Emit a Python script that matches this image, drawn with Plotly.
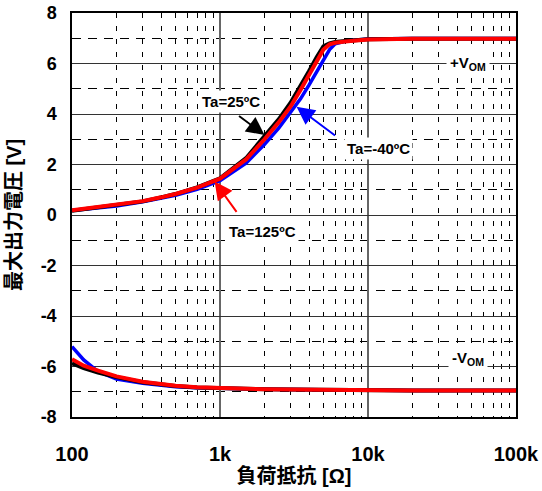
import math
import plotly.graph_objects as go

# Load resistance [ohm]
r_pos = [100, 120, 150, 200, 300, 400, 500, 700, 1000, 1500, 2000, 2500, 3000,
         3500, 4000, 4500, 5000, 5500, 6000, 7000, 8000, 10000, 20000, 50000, 100000]
# +VOM [V]
vom_pos_m40 = [0.18, 0.23, 0.29, 0.36, 0.52, 0.66, 0.78, 1.02, 1.36, 2.05, 2.8, 3.45, 4.05,
               4.6, 5.15, 5.65, 6.1, 6.55, 6.78, 6.88, 6.92, 6.97, 6.99, 6.99, 6.99]
vom_pos_25 = [0.17, 0.23, 0.30, 0.37, 0.54, 0.70, 0.83, 1.09, 1.45, 2.25, 3.1, 3.8, 4.45,
              5.1, 5.7, 6.25, 6.68, 6.8, 6.85, 6.89, 6.92, 6.96, 6.98, 6.98, 6.98]
vom_pos_125 = [0.19, 0.25, 0.31, 0.38, 0.55, 0.70, 0.83, 1.08, 1.44, 2.2, 3.0, 3.68, 4.3,
               4.95, 5.55, 6.05, 6.55, 6.76, 6.82, 6.87, 6.91, 6.95, 6.98, 6.98, 6.98]

r_neg = [100, 120, 150, 200, 300, 400, 500, 700, 1000, 1500, 2000, 3000, 5000,
         10000, 20000, 100000]
# -VOM [V]
vom_neg_m40 = [-5.21, -5.74, -6.2, -6.5, -6.66, -6.74, -6.8, -6.84, -6.87, -6.89, -6.9,
               -6.91, -6.93, -6.94, -6.95, -6.95]
vom_neg_25 = [-5.87, -6.06, -6.24, -6.42, -6.62, -6.71, -6.77, -6.83, -6.86, -6.88, -6.9,
              -6.91, -6.93, -6.94, -6.95, -6.95]
vom_neg_125 = [-5.71, -5.97, -6.16, -6.39, -6.6, -6.7, -6.76, -6.82, -6.86, -6.88, -6.9,
               -6.91, -6.93, -6.94, -6.95, -6.95]

x_tickvals = [100, 1000, 10000, 100000]
x_ticktext = ["100", "1k", "10k", "100k"]
x_minorvals = [m * d for d in (100, 1000, 10000) for m in range(2, 10)]
y_tickvals = [-8, -6, -4, -2, 0, 2, 4, 6, 8]
y_ticktext = ["-8", "-6", "-4", "-2", "0", "2", "4", "6", "8"]

FONT = "Liberation Sans, Arial, Noto Sans CJK JP, sans-serif"

fig = go.Figure()
series = [
    (vom_pos_m40, vom_neg_m40, "#0000ff", 3.5),
    (vom_pos_25, vom_neg_25, "#000000", 4),
    (vom_pos_125, vom_neg_125, "#ff0000", 4),
]
for pos, neg, col, w in series:
    fig.add_trace(go.Scatter(x=r_pos, y=pos, mode="lines",
                             line=dict(color=col, width=w), showlegend=False))
    fig.add_trace(go.Scatter(x=r_neg, y=neg, mode="lines",
                             line=dict(color=col, width=w), showlegend=False))

fig.update_layout(
    width=542, height=491,
    margin=dict(l=72, r=26, t=13, b=74, autoexpand=False),
    paper_bgcolor="white", plot_bgcolor="white",
    font=dict(family=FONT, color="black"),
    xaxis=dict(
        type="log", range=[2, 5], automargin=False,
        tickmode="array", tickvals=x_tickvals, ticktext=x_ticktext,
        tickfont=dict(size=20, family=FONT, weight="bold"),
        ticks="", ticklabelstandoff=18,
        showgrid=True, gridcolor="#666666", gridwidth=1.5,
        minor=dict(tickmode="array", tickvals=x_minorvals, showgrid=True,
                   gridcolor="black", gridwidth=1, griddash="5px,8px", ticks=""),
        showline=True, linecolor="black", linewidth=1.5, mirror=True,
        zeroline=False,
        title=dict(text="<b>負荷抵抗 [Ω]</b>", font=dict(size=20, family=FONT), standoff=5),
    ),
    yaxis=dict(
        range=[-8, 8], automargin=False,
        tickmode="array", tickvals=y_tickvals, ticktext=y_ticktext,
        tickfont=dict(size=18, family=FONT, weight="bold"),
        ticks="", ticklabelstandoff=10,
        showgrid=True, gridcolor="#333333", gridwidth=1,
        minor=dict(dtick=1, showgrid=True, gridcolor="black", gridwidth=1,
                   griddash="9px,7px", ticks=""),
        showline=True, linecolor="black", linewidth=1.5, mirror=True,
        zeroline=False,
        title=dict(text="<b>最大出力電圧 [V]</b>", font=dict(size=20, family=FONT), standoff=14),
    ),
)

txt_font = dict(size=15, family=FONT, color="black", weight="bold")

# Arrows pointing at curves
arrows = [
    (2000, 3.17, -27, -20, "black"),
    (3290, 4.29, 40, 30, "#0000ff"),
    (920, 1.33, 23, 32, "#ff0000"),
]
for ax_r, ax_v, dx, dy, col in arrows:
    fig.add_annotation(x=math.log10(ax_r), y=ax_v, xref="x", yref="y",
                       text="", showarrow=True, ax=dx, ay=dy,
                       arrowhead=2, arrowsize=1.8, arrowwidth=2, arrowcolor=col)

labels = [
    (1194, 4.49, "Ta=25ºC"),
    (11700, 2.65, "Ta=-40ºC"),
    (1945, -0.65, "Ta=125ºC"),
]
for lr, lv, t in labels:
    fig.add_annotation(x=math.log10(lr), y=lv, xref="x", yref="y",
                       text=t, showarrow=False, font=txt_font,
                       bgcolor="white", borderpad=2)

fig.add_annotation(x=math.log10(47500), y=6.0, xref="x", yref="y",
                   text="+V<sub>OM</sub>", showarrow=False, font=txt_font,
                   bgcolor="white", borderpad=3)
fig.add_annotation(x=math.log10(47500), y=-5.7, xref="x", yref="y",
                   text="-V<sub>OM</sub>", showarrow=False, font=txt_font,
                   bgcolor="white", borderpad=3)

fig.write_html("out.html", config={"displayModeBar": False},
               post_script="document.body.style.margin='0';document.body.style.overflow='hidden';")
